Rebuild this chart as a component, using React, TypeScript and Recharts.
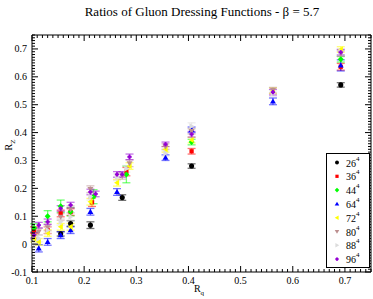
import React from "react"
import { ScatterChart, Scatter, XAxis, YAxis, ErrorBar } from "recharts"

// values, one set of arrays per lattice volume
const labels = ["26", "36", "44", "64", "72", "80", "88", "96"]
const colors = ["#000000", "#ff0000", "#00ff00", "#0000ff", "#ffff00", "#bc8f8f", "#dcdcdc", "#9400d3"]
const symbols = ["circle", "square", "diamond", "up", "left", "down", "right", "plus"]

const x26 = [0.155, 0.174, 0.212, 0.273, 0.406, 0.692]
const y26 = [0.037, 0.074, 0.068, 0.167, 0.28, 0.571]
const e26 = [0.008, 0.01, 0.012, 0.01, 0.008, 0.008]

const x36 = [0.104, 0.13, 0.155, 0.174, 0.215, 0.281, 0.406, 0.692]
const y36 = [0.05, 0.05, 0.11, 0.115, 0.15, 0.26, 0.333, 0.636]
const e36 = [0.012, 0.012, 0.012, 0.012, 0.015, 0.015, 0.01, 0.012]

const x44 = [0.104, 0.13, 0.155, 0.174, 0.218, 0.281, 0.406, 0.692]
const y44 = [0.058, 0.1, 0.136, 0.116, 0.17, 0.25, 0.366, 0.663]
const e44 = [0.015, 0.02, 0.022, 0.015, 0.025, 0.03, 0.01, 0.01]

const x64 = [0.113, 0.13, 0.155, 0.174, 0.212, 0.263, 0.356, 0.406, 0.562, 0.692]
const y64 = [-0.015, 0.008, 0.032, 0.05, 0.116, 0.187, 0.31, 0.41, 0.512, 0.641]
const e64 = [0.013, 0.012, 0.012, 0.012, 0.012, 0.012, 0.01, 0.01, 0.012, 0.02]

const x72 = [0.104, 0.113, 0.13, 0.155, 0.174, 0.212, 0.263, 0.287, 0.356, 0.406, 0.562, 0.692]
const y72 = [0.02, 0.008, 0.04, 0.062, 0.062, 0.152, 0.22, 0.28, 0.34, 0.373, 0.55, 0.698]
const e72 = [0.012, 0.012, 0.012, 0.012, 0.012, 0.012, 0.012, 0.012, 0.01, 0.01, 0.01, 0.01]

const x80 = [0.104, 0.113, 0.13, 0.155, 0.174, 0.212, 0.273, 0.287, 0.356, 0.406, 0.562, 0.692]
const y80 = [0.03, 0.045, 0.06, 0.098, 0.125, 0.197, 0.245, 0.29, 0.35, 0.405, 0.552, 0.683]
const e80 = [0.012, 0.012, 0.012, 0.012, 0.012, 0.012, 0.012, 0.012, 0.01, 0.01, 0.01, 0.01]

const x88 = [0.104, 0.113, 0.13, 0.155, 0.174, 0.212, 0.263, 0.281, 0.356, 0.406, 0.562, 0.692]
const y88 = [0.0, 0.02, 0.05, 0.08, 0.098, 0.17, 0.24, 0.27, 0.326, 0.423, 0.54, 0.69]
const e88 = [0.012, 0.012, 0.012, 0.012, 0.012, 0.012, 0.012, 0.012, 0.01, 0.012, 0.01, 0.01]

const x96 = [0.104, 0.113, 0.13, 0.155, 0.174, 0.212, 0.222, 0.263, 0.273, 0.287, 0.356, 0.406, 0.562, 0.692]
const y96 = [0.032, 0.068, 0.08, 0.128, 0.14, 0.187, 0.18, 0.25, 0.25, 0.313, 0.358, 0.394, 0.545, 0.688]
const e96 = [0.01, 0.01, 0.01, 0.01, 0.01, 0.01, 0.01, 0.01, 0.01, 0.01, 0.008, 0.01, 0.01, 0.01]

const xMajor = [0.1, 0.2, 0.3, 0.4, 0.5, 0.6, 0.7]
const yMajor = [-0.1, 0, 0.1, 0.2, 0.3, 0.4, 0.5, 0.6, 0.7]

const rows = (xs: number[], ys: number[], es: number[]) => xs.map((x, i) => ({ x, y: ys[i], e: es[i] }))
const series = [
  rows(x26, y26, e26),
  rows(x36, y36, e36),
  rows(x44, y44, e44),
  rows(x64, y64, e64),
  rows(x72, y72, e72),
  rows(x80, y80, e80),
  rows(x88, y88, e88),
  rows(x96, y96, e96),
]

// minor ticks every 0.01
const minor = (from: number, to: number) => {
  const out: number[] = []
  for (let i = Math.round(from * 100); i <= Math.round(to * 100); i++) out.push(i / 100)
  return out
}
const xTicks = minor(0.1, 0.75)
const yTicks = minor(-0.1, 0.75)
const isMajor = (v: number, list: number[]) => list.some((m) => Math.abs(m - v) < 1e-6)

const FONT = "'Liberation Serif', 'DejaVu Serif', serif"

function Sym({ kind, cx, cy, color, s = 1 }: any) {
  const a = 3.5 * s
  const b = 2.5 * s
  switch (kind) {
    case "circle":
      return <circle cx={cx} cy={cy} r={3 * s} fill={color} />
    case "square":
      return <rect x={cx - 2.5 * s} y={cy - 2.5 * s} width={5 * s} height={5 * s} fill={color} />
    case "diamond":
      return <polygon points={`${cx},${cy - a} ${cx + a},${cy} ${cx},${cy + a} ${cx - a},${cy}`} fill={color} />
    case "up":
      return <polygon points={`${cx},${cy - a} ${cx + a},${cy + b} ${cx - a},${cy + b}`} fill={color} />
    case "down":
      return <polygon points={`${cx},${cy + a} ${cx + a},${cy - b} ${cx - a},${cy - b}`} fill={color} />
    case "left":
      return <polygon points={`${cx - a},${cy} ${cx + b},${cy - a} ${cx + b},${cy + a}`} fill={color} />
    case "right":
      return <polygon points={`${cx + a},${cy} ${cx - b},${cy - a} ${cx - b},${cy + a}`} fill={color} />
    default:
      return (
        <g stroke={color} strokeWidth={2}>
          <line x1={cx - 2.5 * s} x2={cx + 2.5 * s} y1={cy} y2={cy} />
          <line x1={cx} x2={cx} y1={cy - 2.5 * s} y2={cy + 2.5 * s} />
        </g>
      )
  }
}

const BottomTick = ({ x, y, payload }: any) => {
  const major = isMajor(payload.value, xMajor)
  return (
    <g>
      <line x1={x} x2={x} y1={y} y2={y - (major ? 6 : 3)} stroke="#000" />
      {major && (
        <text x={x} y={y + 12} textAnchor="middle" fontSize={10} fontFamily={FONT} fill="#000">
          {payload.value}
        </text>
      )}
    </g>
  )
}
const TopTick = ({ x, y, payload }: any) => {
  const major = isMajor(payload.value, xMajor)
  return <line x1={x} x2={x} y1={y} y2={y + (major ? 6 : 3)} stroke="#000" />
}
const LeftTick = ({ x, y, payload }: any) => {
  const major = isMajor(payload.value, yMajor)
  return (
    <g>
      <line x1={x} x2={x + (major ? 6 : 3)} y1={y} y2={y} stroke="#000" />
      {major && (
        <text x={x - 5} y={y + 3.5} textAnchor="end" fontSize={10} fontFamily={FONT} fill="#000">
          {payload.value}
        </text>
      )}
    </g>
  )
}
const RightTick = ({ x, y, payload }: any) => {
  const major = isMajor(payload.value, yMajor)
  return <line x1={x} x2={x - (major ? 6 : 3)} y1={y} y2={y} stroke="#000" />
}

export default function App() {
  return (
    <div style={{ position: "absolute", left: 0, top: 0, width: 373, height: 299, background: "#fff" }}>
      <ScatterChart width={373} height={299} margin={{ top: 34, right: 1, bottom: 0, left: 0 }}>
        <XAxis xAxisId="b" dataKey="x" type="number" domain={[0.1, 0.75]} allowDataOverflow ticks={xTicks}
          interval={0} tickSize={0} tickMargin={0} tickLine={false} tick={<BottomTick />} height={27}
          axisLine={{ stroke: "#000" }} />
        <XAxis xAxisId="t" orientation="top" dataKey="x" type="number" domain={[0.1, 0.75]} allowDataOverflow
          ticks={xTicks} interval={0} tickSize={0} tickMargin={0} tickLine={false} tick={<TopTick />} height={1}
          axisLine={{ stroke: "#000" }} />
        <YAxis yAxisId="l" dataKey="y" type="number" domain={[-0.1, 0.75]} allowDataOverflow ticks={yTicks}
          interval={0} tickSize={0} tickMargin={0} tickLine={false} tick={<LeftTick />} width={32}
          axisLine={{ stroke: "#000" }} />
        <YAxis yAxisId="r" orientation="right" dataKey="y" type="number" domain={[-0.1, 0.75]} allowDataOverflow
          ticks={yTicks} interval={0} tickSize={0} tickMargin={0} tickLine={false} tick={<RightTick />} width={1}
          axisLine={{ stroke: "#000" }} />
        {series.map((d, i) => (
          <Scatter key={labels[i]} data={d} xAxisId="b" yAxisId="l" isAnimationActive={false}
            shape={(p: any) => <Sym kind={symbols[i]} cx={p.cx} cy={p.cy} color={colors[i]} s={0.85} />}>
            <ErrorBar dataKey="e" direction="y" width={4} stroke={colors[i]} strokeOpacity={0.55} strokeWidth={1.3} />
          </Scatter>
        ))}
      </ScatterChart>
      <svg width={373} height={299} style={{ position: "absolute", left: 0, top: 0, pointerEvents: "none" }}>
        <text x={202} y={16} textAnchor="middle" fontSize={13} fontFamily={FONT} fill="#000">
          Ratios of Gluon Dressing Functions - β = 5.7
        </text>
        <text x={199} y={292} textAnchor="middle" fontSize={10} fontFamily={FONT} fill="#000">
          R<tspan fontSize={7} dy={3}>q</tspan>
        </text>
        <text x={0} y={0} transform="translate(12,145) rotate(-90)" textAnchor="middle" fontSize={10} fontFamily={FONT} fill="#000">
          R<tspan fontSize={7} dy={3}>Z</tspan>
        </text>
        <rect x={326.5} y={153.5} width={43} height={114} fill="#fff" stroke="#000" />
        {labels.map((l, i) => {
          const cy = 162.5 + i * 13.8
          return (
            <g key={l}>
              <Sym kind={symbols[i]} cx={337} cy={cy} color={colors[i]} s={0.65} />
              <text x={346} y={cy + 4} fontSize={10} fontFamily={FONT} fill="#000">
                {l}
                <tspan fontSize={7} dy={-6}>4</tspan>
              </text>
            </g>
          )
        })}
      </svg>
    </div>
  )
}
